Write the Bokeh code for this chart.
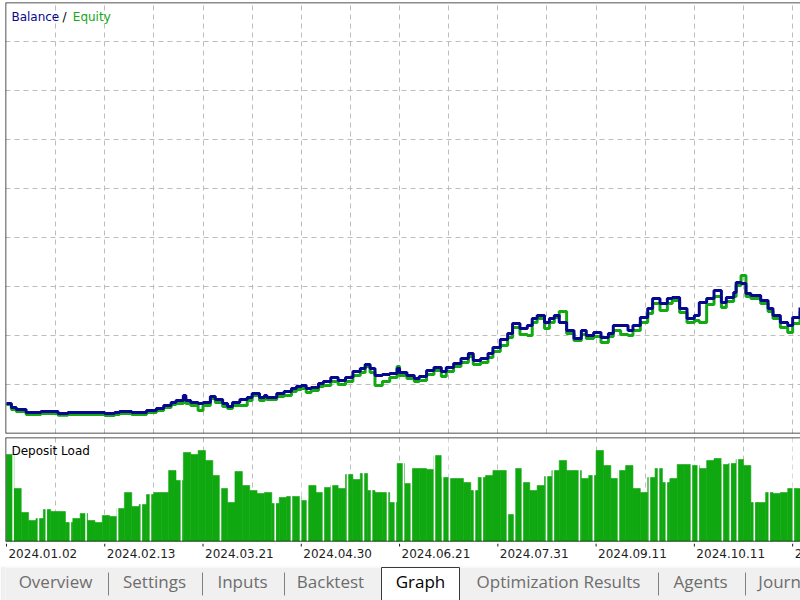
from bokeh.plotting import figure
from bokeh.models import Range1d, FixedTicker, Span, Label, Grid
from bokeh.layouts import column
from bokeh.embed import file_html
from bokeh.resources import INLINE
from bokeh.core.properties import value

# ---------------- data ----------------
trade_idx = [0, 2, 4, 8, 14, 18, 21, 25, 30, 36,
             40, 44, 46, 51, 55, 57, 61, 64, 67, 69,
             72, 73, 75, 78, 80, 83, 85, 88, 90, 92,
             95, 98, 100, 103, 105, 106, 110, 113, 116, 118,
             120, 122, 124, 127, 129, 132, 135, 138, 141, 144,
             146, 148, 150, 153, 156, 159, 160, 163, 166, 168,
             171, 174, 177, 179, 182, 185, 188, 190, 193, 196,
             198, 201, 204, 206, 209, 212, 214, 216, 219, 221,
             223, 225, 228, 231, 234, 236, 239, 242, 245, 247,
             250, 253, 255, 258, 261, 263, 266, 269, 271, 274,
             277, 280, 282, 285, 288, 291, 293, 296, 297, 299,
             301, 303, 305, 307, 310, 312, 315, 318, 320, 323]

balance = [9612, 9531, 9490, 9429, 9449, 9449, 9408, 9429, 9429, 9429,
           9408, 9429, 9449, 9429, 9429, 9469, 9510, 9571, 9633, 9673,
           9776, 9673, 9633, 9612, 9633, 9755, 9694, 9612, 9551, 9633,
           9694, 9735, 9816, 9735, 9776, 9735, 9816, 9857, 9918, 9959,
           9980, 9918, 9939, 10020, 10061, 10143, 10082, 10143, 10265, 10327,
           10408, 10327, 10184, 10204, 10225, 10327, 10245, 10184, 10122, 10163,
           10286, 10347, 10265, 10347, 10429, 10531, 10633, 10490, 10531, 10633,
           10755, 10918, 11041, 11245, 11143, 11204, 11347, 11408, 11265, 11347,
           11408, 11265, 11102, 10939, 11102, 11000, 11061, 10959, 11041, 11204,
           11204, 11102, 11204, 11367, 11551, 11755, 11653, 11755, 11776, 11551,
           11347, 11408, 11673, 11755, 11918, 11673, 11776, 11878, 12082, 12061,
           11857, 11816, 11816, 11714, 11551, 11408, 11265, 11204, 11367, 11571]

equity = [9592, 9490, 9449, 9390, 9408, 9410, 9370, 9390, 9388, 9390,
          9368, 9390, 9408, 9388, 9390, 9429, 9469, 9531, 9592, 9612,
          9735, 9612, 9571, 9469, 9571, 9714, 9633, 9551, 9510, 9571,
          9571, 9673, 9776, 9673, 9735, 9694, 9755, 9776, 9857, 9898,
          9918, 9837, 9878, 9959, 9980, 10061, 10000, 10061, 10184, 10245,
          10367, 10245, 9980, 10061, 10143, 10367, 10184, 10122, 10061, 10082,
          10204, 10286, 10163, 10265, 10367, 10449, 10571, 10408, 10449, 10551,
          10673, 10796, 10959, 11163, 11020, 11000, 11265, 11347, 11143, 11265,
          11367, 11490, 11041, 10898, 11020, 10939, 10980, 10857, 10980, 11102,
          11020, 11000, 11102, 11265, 11449, 11653, 11510, 11653, 11714, 11469,
          11265, 11306, 11265, 11633, 11796, 11571, 11694, 11796, 12020, 12225,
          11796, 11755, 11755, 11653, 11490, 11347, 11163, 11061, 11245, 11490]

# deposit load (%) per block of 3 trades
deposit_load = [8.7, 5.3, 2.9, 2.1, 2.3, 3.2, 3.0, 3.0, 1.9, 2.3,
                2.8, 2.1, 1.9, 2.6, 2.5, 3.3, 4.9, 3.5, 3.7, 4.7,
                4.9, 4.9, 7.1, 6.1, 8.9, 8.7, 9.1, 8.1, 6.6, 5.3,
                3.9, 7.0, 5.6, 5.1, 4.8, 4.9, 3.8, 4.4, 4.5, 4.5,
                4.1, 5.6, 4.9, 5.4, 5.6, 5.3, 6.7, 6.2, 6.8, 5.1,
                4.9, 4.9, 3.9, 7.8, 5.8, 7.3, 7.3, 7.2, 8.6, 6.4,
                6.3, 6.3, 5.9, 5.1, 6.4, 6.6, 7.1, 7.1, 2.7, 7.3,
                5.9, 5.1, 5.6, 6.5, 7.1, 8.1, 7.1, 7.1, 6.3, 6.6,
                9.1, 7.6, 6.3, 7.1, 7.6, 5.3, 4.9, 6.4, 7.3, 5.9,
                6.3, 7.7, 7.7, 7.6, 7.3, 8.1, 8.3, 7.7, 7.8, 8.2,
                7.6, 3.9, 3.9, 4.9, 4.8, 4.9, 5.3, 5.3]
load_block = 3

# session breaks (trade index positions)
session_breaks = [2.7, 13.0, 16.2, 26.0, 32.4, 45.2, 54.9, 58.6, 71.2, 87.1,
                  109.4, 116.0, 119.7, 122.5, 129.0, 132.3, 138.8, 145.3, 148.6, 155.1,
                  158.3, 161.6, 164.8, 174.2, 177.5, 180.3, 190.5, 193.7, 203.9, 206.8,
                  210.0, 219.8, 222.6, 233.2, 238.9, 249.1, 261.7, 265.4, 268.6, 278.8,
                  281.6, 291.4, 294.6, 297.5, 304.4, 310.5, 320.3]

date_ticks = [0, 40, 80, 120, 160, 200, 240, 280, 320]
date_labels = ["2024.01.02", "2024.02.13", "2024.03.21", "2024.04.30", "2024.06.21",
               "2024.07.31", "2024.09.11", "2024.10.11", "2024.11.12"]
grid_x = list(range(20, 324, 20))
grid_y = [10000, 11000, 12000, 13000, 14000, 15000, 16000, 17000]

tab_names = ["Overview", "Settings", "Inputs", "Backtest", "Graph",
             "Optimization Results", "Agents", "Journal"]
active_tab = "Graph"

# ---------------- styles ----------------
BLUE = "#08088f"
GREEN = "#14a814"
BAR_GREEN = "#10a810"
GRID = "#bdbdbd"
FRAME = "#1a1a1a"
FONT = "DejaVu Sans"

xr = Range1d(-0.4, 323.2)
common = dict(width=800, output_backend="svg", toolbar_location=None,
              x_axis_location=None, y_axis_location=None,
              min_border_left=5, min_border_right=0,
              outline_line_color=None, background_fill_color="white",
              border_fill_color="white")


def add_grid(fig, dim, ticks):
    g = Grid(dimension=dim, ticker=FixedTicker(ticks=ticks),
             grid_line_color=GRID, grid_line_dash="5 4", grid_line_width=1)
    fig.add_layout(g, "center")


def add_frame(fig, x0, y0, y1):
    fig.add_layout(Span(location=x0, dimension="height", line_color=FRAME, line_width=1.5))
    fig.add_layout(Span(location=y0, dimension="width", line_color=FRAME, line_width=1.5))
    fig.add_layout(Span(location=y1, dimension="width", line_color=FRAME, line_width=1.5))


# ---------------- main chart ----------------
ymin, ymax = 9000, 17796
p = figure(height=435, x_range=xr, y_range=Range1d(ymin, ymax),
           min_border_top=2, min_border_bottom=2, **common)
p.xgrid.visible = False
p.ygrid.visible = False
add_grid(p, 0, grid_x)
add_grid(p, 1, grid_y)

p.step(trade_idx, equity, mode="after", line_color=GREEN, line_width=3)
p.step(trade_idx, balance, mode="after", line_color=BLUE, line_width=3)
add_frame(p, xr.start, ymin, ymax)

for txt, xx, col in [("Balance", 2.0, BLUE), ("/", 22.8, "black"), ("Equity", 27.0, GREEN)]:
    p.add_layout(Label(x=xx, y=17500, text=txt, text_color=col, text_font=FONT,
                       text_font_size="12px", text_baseline="alphabetic"))

# ---------------- deposit load ----------------
lmax = 10.4
p2 = figure(height=108, x_range=xr, y_range=Range1d(0, lmax),
            min_border_top=2, min_border_bottom=2, **common)
p2.xgrid.visible = False
p2.ygrid.visible = False
add_grid(p2, 0, grid_x)
bar_x = [load_block * k + load_block / 2 for k in range(len(deposit_load))]
p2.vbar(x=bar_x, top=deposit_load, bottom=0, width=load_block,
        fill_color=BAR_GREEN, line_color=BAR_GREEN, line_width=0.6)
p2.segment(x0=session_breaks, y0=0, x1=session_breaks, y1=lmax,
           line_color="white", line_width=1.6)
add_frame(p2, xr.start, 0, lmax)
p2.add_layout(Label(x=2.0, y=9.1, text="Deposit Load", text_color="black", text_font=FONT,
                    text_font_size="12px", text_baseline="alphabetic"))

# ---------------- date labels ----------------
p3 = figure(height=23, x_range=xr, y_range=Range1d(0, 23),
            min_border_top=0, min_border_bottom=0, **common)
p3.xgrid.visible = False
p3.ygrid.visible = False
p3.segment(x0=date_ticks, y0=23, x1=date_ticks, y1=20, line_color=FRAME, line_width=1)
p3.text(x=date_ticks, y=[13.5] * len(date_ticks), text=date_labels, x_offset=2,
        text_align="left", text_baseline="alphabetic", text_color="#1e1e1e",
        text_font=value(FONT), text_font_size="12px")

# ---------------- tab bar (pixel-like coordinates) ----------------
p4 = figure(width=800, height=34, x_range=Range1d(5, 800), y_range=Range1d(0, 34),
            output_backend="svg", toolbar_location=None,
            x_axis_location=None, y_axis_location=None,
            min_border_left=5, min_border_right=0, min_border_top=0, min_border_bottom=0,
            outline_line_color=None, background_fill_color="#f0f0f0",
            border_fill_color="#f0f0f0")
p4.xgrid.visible = False
p4.ygrid.visible = False
p4.quad(left=0, right=800, bottom=33, top=34, fill_color="white", line_color=None)
tab_centers = [55, 154, 242, 330, 420, 558, 700, 786]
sep_x = [108, 202, 284, 658, 745]
ai = tab_names.index(active_tab)
p4.quad(left=381, right=459, bottom=-3, top=33, fill_color="white",
        line_color="#3a3a3a", line_width=1)
p4.segment(x0=sep_x, y0=[5] * len(sep_x), x1=sep_x, y1=[28] * len(sep_x),
           line_color="#808080", line_width=1)
colors = ["black" if i == ai else "#6d6d6d" for i in range(len(tab_names))]
p4.text(x=tab_centers, y=[19] * len(tab_names), text=tab_names, text_color=colors,
        text_align="center", text_baseline="alphabetic",
        text_font=value("Open Sans"), text_font_size="17px")

layout = column(p, p2, p3, p4, spacing=0)
open("out.html", "w").write(file_html(layout, INLINE))
